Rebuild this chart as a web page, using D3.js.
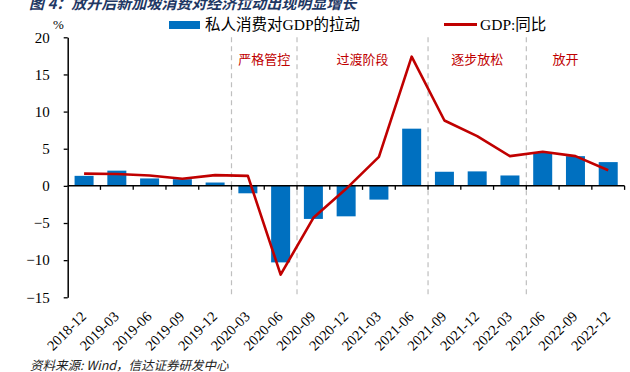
<!DOCTYPE html>
<html>
<head>
<meta charset="utf-8">
<script src="https://cdn.jsdelivr.net/npm/d3@7"></script>
<style>
  body { margin: 0; background: #fff; }
  svg { display: block; }
  .serif { font-family: "Liberation Serif", "Noto Sans CJK SC", serif; }
</style>
</head>
<body>
<svg id="chart" width="630" height="372"></svg>
<script>
const quarters = ["2018-12", "2019-03", "2019-06", "2019-09", "2019-12", "2020-03", "2020-06",
    "2020-09", "2020-12", "2021-03", "2021-06", "2021-09", "2021-12", "2022-03", "2022-06",
    "2022-09", "2022-12"];
const consumptionPull = [1.35, 2.05, 1.0, 0.9, 0.45, -1.0, -10.3, -4.45, -4.1, -1.85, 7.7,
    1.9, 1.95, 1.4, 4.45, 4.0, 3.2];
const gdpYoy = [1.65, 1.6, 1.4, 0.95, 1.45, 1.35, -11.95, -4.3, -0.4, 3.9, 17.4, 8.8, 6.7,
    4.0, 4.6, 4.0, 2.1];
const yTicks = [-15, -10, -5, 0, 5, 10, 15, 20];
// phase boundaries sit before these quarters
const phaseStarts = ["2020-03", "2020-09", "2021-09", "2022-06"];
const phases = [
    { name: "严格管控", from: "2020-03", to: "2020-06" },
    { name: "过渡阶段", from: "2020-09", to: "2021-06" },
    { name: "逐步放松", from: "2021-09", to: "2022-03" },
    { name: "放开", from: "2022-06", to: "2022-12" }
];

const svg = d3.select("#chart");
const plotL = 67.7, plotR = 624.6, plotT = 37.3, plotB = 297.3;

const x = d3.scaleBand().domain(quarters).range([plotL, plotR]).paddingInner(0.42).paddingOuter(0.21);
const xb = d3.scaleBand().domain(quarters).range([plotL, plotR]); // full bands, for ticks/dividers
const y = d3.scaleLinear().domain([-15, 20]).range([plotB, plotT]);

// title
svg.append("text")
    .attr("x", 29).attr("y", 9)
    .style("font-family", "Noto Sans CJK SC").style("font-weight", "bold").style("font-style", "italic")
    .style("font-size", "15px").attr("fill", "#1f3864")
    .text("图 4：放开后新加坡消费对经济拉动出现明显增长");

// legend
svg.append("rect").attr("x", 169).attr("y", 21).attr("width", 31).attr("height", 8).attr("fill", "#0070c0");
svg.append("text").attr("class", "serif").attr("x", 205).attr("y", 30).style("font-size", "15.5px")
    .text("私人消费对GDP的拉动");
svg.append("line").attr("x1", 444).attr("x2", 477).attr("y1", 24.5).attr("y2", 24.5)
    .attr("stroke", "#c00000").attr("stroke-width", 3);
svg.append("text").attr("class", "serif").attr("x", 480).attr("y", 30).style("font-size", "15.5px")
    .text("GDP:同比");

// unit
svg.append("text").attr("class", "serif").attr("x", 53).attr("y", 29).style("font-size", "13px").text("%");

// phase dividers
svg.selectAll(".divider").data(phaseStarts).enter().append("line")
    .attr("x1", d => xb(d)).attr("x2", d => xb(d))
    .attr("y1", plotT).attr("y2", plotB)
    .attr("stroke", "#bfbfbf").attr("stroke-width", 1.2).attr("stroke-dasharray", "5,4");

svg.selectAll(".phase").data(phases).enter().append("text")
    .attr("x", d => (xb(d.from) + xb(d.to) + xb.bandwidth()) / 2 + (d.name === "放开" ? -10 : 0))
    .attr("y", 64)
    .attr("text-anchor", "middle")
    .style("font-family", "Noto Sans CJK SC").style("font-size", "13px")
    .attr("fill", "#c00000")
    .text(d => d.name);

// bars
svg.selectAll(".bar").data(quarters).enter().append("rect")
    .attr("x", d => x(d))
    .attr("width", x.bandwidth())
    .attr("y", (d, i) => y(Math.max(0, consumptionPull[i])))
    .attr("height", (d, i) => Math.abs(y(consumptionPull[i]) - y(0)))
    .attr("fill", "#0070c0");

// y axis
const yAxis = svg.append("g").attr("transform", `translate(${plotL},0)`)
    .call(d3.axisLeft(y).tickValues(yTicks).tickSize(4).tickSizeOuter(0));
yAxis.select(".domain").attr("stroke", "#000").attr("stroke-width", 1.5);
yAxis.selectAll(".tick line").attr("stroke", "#000").attr("stroke-width", 1.3);
yAxis.selectAll(".tick text").attr("class", "serif").attr("x", -18)
    .style("font-size", "15px").attr("fill", "#000");

// x axis at zero
const xAxis = svg.append("g").attr("transform", `translate(0,${y(0)})`);
xAxis.append("line").attr("x1", plotL).attr("x2", plotR).attr("stroke", "#000").attr("stroke-width", 1.5);
xAxis.selectAll(".xt").data(quarters).enter().append("line")
    .attr("x1", d => xb(d) + xb.bandwidth())
    .attr("x2", d => xb(d) + xb.bandwidth())
    .attr("y1", 0).attr("y2", 4)
    .attr("stroke", "#000").attr("stroke-width", 1.3);

// x labels
svg.selectAll(".xl").data(quarters).enter().append("text")
    .attr("class", "serif")
    .attr("transform", d => `translate(${xb(d) + xb.bandwidth() / 2 + 3},${plotB + 20}) rotate(-45)`)
    .attr("text-anchor", "end")
    .style("font-size", "14.5px")
    .text(d => d);

// GDP line
const line = d3.line().x((d, i) => x(quarters[i]) + x.bandwidth() / 2).y(d => y(d));
svg.append("path").datum(gdpYoy)
    .attr("d", line)
    .attr("fill", "none").attr("stroke", "#c00000").attr("stroke-width", 2.6)
    .attr("stroke-linejoin", "round");

// source
svg.append("text")
    .attr("x", 30).attr("y", 370)
    .style("font-family", "Noto Sans CJK SC").style("font-style", "italic").style("font-size", "12.5px")
    .attr("fill", "#222")
    .text("资料来源: Wind，信达证券研发中心");
</script>
</body>
</html>
